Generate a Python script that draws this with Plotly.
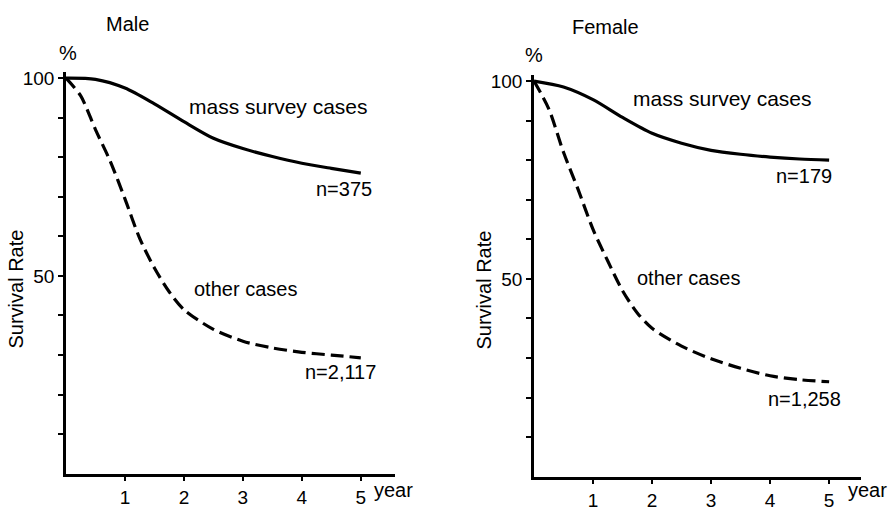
import plotly.graph_objects as go

# ---- data ----
years_a = [0, 0.5, 1.0, 1.5, 2.0, 2.5, 3.0, 3.5, 4.0, 4.5, 5.0]
male_mass = [100, 99.7, 97.5, 93.5, 89, 84.8, 82.2, 80.2, 78.5, 77.2, 76]
female_mass = [100, 98.5, 95.3, 90.8, 86.8, 84.3, 82.5, 81.5, 80.8, 80.3, 80]

years_b = [0, 0.25, 0.5, 0.75, 1.0, 1.25, 1.5, 1.75, 2.0, 2.5, 3.0, 3.5, 4.0, 4.5, 5.0]
male_other = [100, 95.5, 87, 79, 69.5, 59.5, 52, 46, 41.5, 36.5, 33.5, 31.8, 30.7, 30, 29.3]
female_other = [100, 93, 82, 72.5, 62.5, 54.5, 47, 41.4, 37.5, 33, 29.8, 27.4, 25.5, 24.5, 24]

y_tickvals = [10, 20, 30, 40, 50, 60, 70, 80, 90, 100]
y_ticktext = ["", "", "", "", "50", "", "", "", "", "100"]
x_tickvals = [1, 2, 3, 4, 5]
x_ticktext = ["1", "2", "3", "4", "5"]

W, H = 888, 511
FONT = "Liberation Sans, Arial, sans-serif"


def px(x):
    return x / W


def py(y):
    return 1 - y / H


fig = go.Figure()

solid = dict(color="black", width=3.2, shape="spline", smoothing=0.8)
dashed = dict(color="black", width=3.2, dash="13px,6px", shape="spline", smoothing=0.8)

fig.add_trace(go.Scatter(x=years_a, y=male_mass, mode="lines", line=solid, xaxis="x", yaxis="y"))
fig.add_trace(go.Scatter(x=years_b, y=male_other, mode="lines", line=dashed, xaxis="x", yaxis="y"))
fig.add_trace(go.Scatter(x=years_a, y=female_mass, mode="lines", line=solid, xaxis="x2", yaxis="y2"))
fig.add_trace(go.Scatter(x=years_b, y=female_other, mode="lines", line=dashed, xaxis="x2", yaxis="y2"))

axis_common = dict(showgrid=False, zeroline=False, showline=True, linecolor="black",
                   linewidth=2.5, ticks="outside", tickcolor="black", tickwidth=1.6,
                   ticklen=5, tickfont=dict(family=FONT, size=19, color="black"))

fig.update_layout(
    width=W, height=H,
    margin=dict(l=0, r=0, t=0, b=0),
    paper_bgcolor="white", plot_bgcolor="white",
    showlegend=False,
    xaxis=dict(domain=[px(66), px(395)], range=[0, 5.58], tickvals=x_tickvals,
               ticktext=x_ticktext, anchor="y", **axis_common),
    yaxis=dict(domain=[py(482), py(70)], range=[0, 101.5], tickvals=y_tickvals,
               ticktext=y_ticktext, anchor="x", **axis_common),
    xaxis2=dict(domain=[px(534), px(861)], range=[0, 5.54], tickvals=x_tickvals,
                ticktext=x_ticktext, anchor="y2", **axis_common),
    yaxis2=dict(domain=[py(485), py(73)], range=[0, 101.5], tickvals=y_tickvals,
                ticktext=y_ticktext, anchor="x2", **axis_common),
)


def note(text, x, y, xanchor="center", size=20, angle=0):
    fig.add_annotation(text=text, x=px(x), y=py(y), xref="paper", yref="paper",
                       xanchor=xanchor, yanchor="middle", showarrow=False, textangle=angle,
                       font=dict(family=FONT, size=size, color="black"))


# Male panel
note("Male", 127, 21)
note("%", 68, 50)
note("Survival Rate", 16, 293, angle=-90)
note("mass survey cases", 278, 105, size=21)
note("n=375", 344, 190)
note("other cases", 245, 292)
note("n=2,117", 340, 378)
note("year", 393, 499)

# Female panel
note("Female", 605, 24)
note("%", 534, 52)
note("Survival Rate", 484, 294, angle=-90)
note("mass survey cases", 722, 97, size=21)
note("n=179", 804, 176)
note("other cases", 688, 281)
note("n=1,258", 804, 405)
note("year", 867, 499)

fig.write_html("out.html", config={"displayModeBar": False},
               post_script="document.body.style.margin='0px';")
